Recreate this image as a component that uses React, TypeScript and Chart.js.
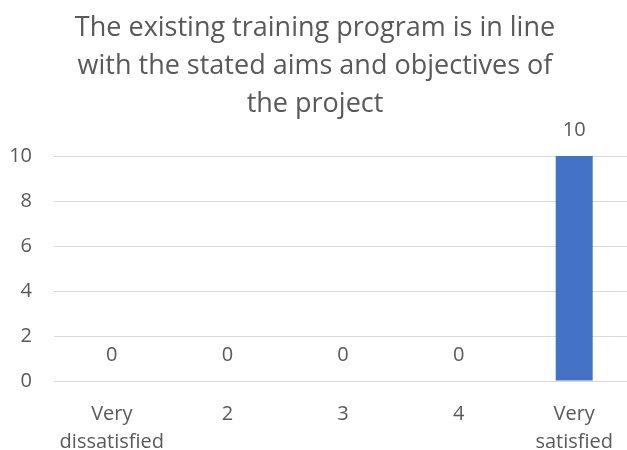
import React, { useEffect, useRef } from "react";
import { Chart, registerables } from "chart.js";

Chart.register(...registerables);

const titleLines = [
  "The existing training program is in line",
  "with the stated aims and objectives of",
  "the project",
];
const categories: (string | string[])[] = [
  ["Very", "dissatisfied"],
  "2",
  "3",
  "4",
  ["Very", "satisfied"],
];
const values = [0, 0, 0, 0, 10];
const yTicks = [0, 2, 4, 6, 8, 10];

const FONT = "'Open Sans', sans-serif";
const TEXT = "#595959";

const titlePlugin = {
  id: "customTitle",
  afterDraw(chart: any) {
    const ctx = chart.ctx;
    ctx.save();
    ctx.fillStyle = TEXT;
    ctx.font = `27px ${FONT}`;
    ctx.textAlign = "center";
    ctx.textBaseline = "alphabetic";
    const baselines = [36, 74, 112];
    titleLines.forEach((t, i) => ctx.fillText(t, 315, baselines[i]));
    ctx.restore();
  },
};

const labelPlugin = {
  id: "valueLabels",
  afterDatasetsDraw(chart: any) {
    const ctx = chart.ctx;
    const meta = chart.getDatasetMeta(0);
    ctx.save();
    ctx.fillStyle = TEXT;
    ctx.font = `20px ${FONT}`;
    ctx.textAlign = "center";
    ctx.textBaseline = "middle";
    meta.data.forEach((bar: any, i: number) => {
      ctx.fillText(String(values[i]), bar.x, bar.y - 26);
    });
    ctx.restore();
  },
};

export default function App() {
  const ref = useRef<HTMLCanvasElement>(null);
  useEffect(() => {
    document.body.style.margin = "0";
    const chart = new Chart(ref.current!, {
      type: "bar",
      data: {
        labels: categories,
        datasets: [
          {
            data: values,
            backgroundColor: "#4472C4",
            barPercentage: 0.32,
            categoryPercentage: 1,
          },
        ],
      },
      options: {
        responsive: false,
        animation: false,
        layout: { padding: { top: 156, left: 0, right: 0, bottom: 0 } },
        plugins: { legend: { display: false }, title: { display: false }, tooltip: { enabled: false } },
        scales: {
          x: {
            grid: { display: false },
            border: { display: false },
            ticks: {
              color: TEXT,
              font: { family: FONT, size: 20, lineHeight: 1.4 },
              padding: 11,
              maxRotation: 0,
              autoSkip: false,
            },
            afterFit(scale: any) {
              scale.height = 69;
            },
          },
          y: {
            min: 0,
            max: 10,
            afterBuildTicks(scale: any) {
              scale.ticks = yTicks.map((v) => ({ value: v }));
            },
            grid: { color: "#D9D9D9", lineWidth: 1, drawTicks: false },
            border: { display: false },
            ticks: {
              color: TEXT,
              font: { family: FONT, size: 20 },
              padding: 22,
            },
            afterFit(scale: any) {
              scale.width = 54;
            },
          },
        },
      },
      plugins: [titlePlugin, labelPlugin],
    });
    return () => chart.destroy();
  }, []);
  return (
    <div style={{ width: 627, height: 450, overflow: "hidden" }}>
      <canvas ref={ref} width={632} height={450} style={{ display: "block" }} />
    </div>
  );
}
